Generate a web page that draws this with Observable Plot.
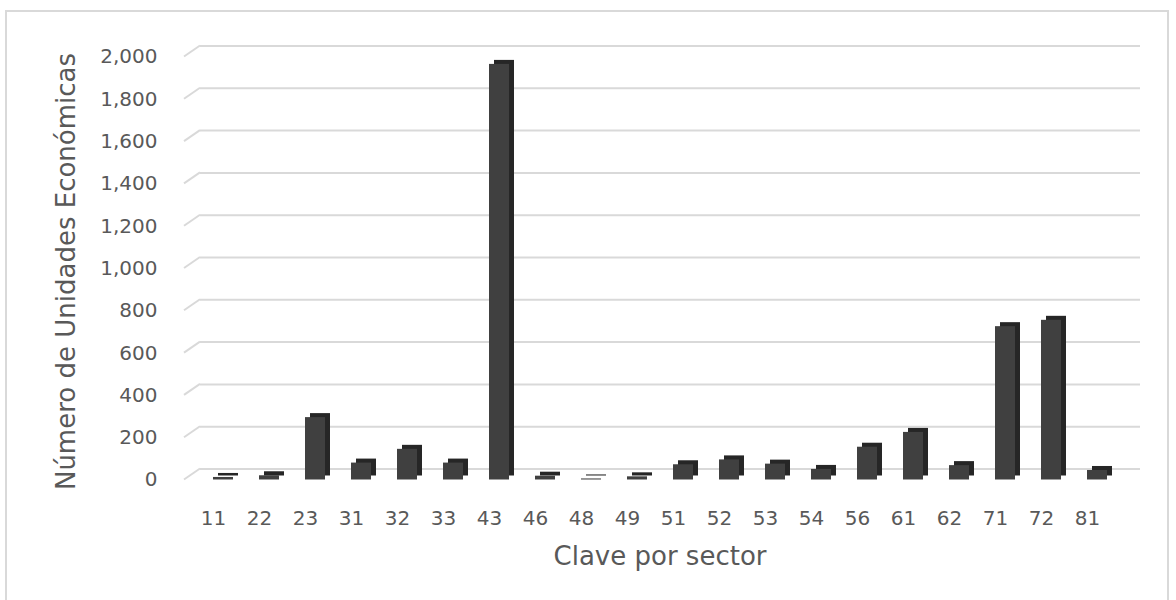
<!DOCTYPE html>
<html>
<head>
<meta charset="utf-8">
<script src="https://cdn.jsdelivr.net/npm/d3@7"></script>
<script src="https://cdn.jsdelivr.net/npm/@observablehq/plot@0.6"></script>
<style>
  html, body { margin: 0; padding: 0; background: #fff; }
  #wrap { position: relative; width: 1176px; height: 600px; overflow: hidden; }
  #border { position: absolute; left: 5px; top: 10px; width: 1164px; height: 600px; border: 2px solid #d9d9d9; box-sizing: border-box; }
  #chart { position: absolute; left: 0; top: 0; }
</style>
</head>
<body>
<div id="wrap"><div id="border"></div><div id="chart"></div></div>
<script>
const sectors = ["11","22","23","31","32","33","43","46","48","49","51","52","53","54","56","61","62","71","72","81"];
const units   = [12, 20, 295, 80, 145, 80, 1965, 18, 5, 15, 72, 95, 75, 50, 155, 225, 68, 725, 755, 45];
const yTicks  = [0, 200, 400, 600, 800, 1000, 1200, 1400, 1600, 1800, 2000];

const data = sectors.map((s, i) => ({sector: s, value: units[i]}));
const fontFamily = "'DejaVu Sans', sans-serif";
const textColor = "#595959";
const gridColor = "#d9d9d9";

// slanted left ends of the back-wall gridlines (3D floor edge)
const slants = (index, scales, values, dimensions) => {
  const y = scales.y ?? (scales.scales && scales.scales.y);
  const g = d3.create("svg:g").attr("stroke", gridColor).attr("stroke-width", 2).attr("fill", "none");
  const x0 = dimensions.marginLeft + 7;
  for (const t of yTicks) {
    const yy = y(t);
    g.append("line").attr("x1", x0).attr("y1", yy).attr("x2", x0 + 16).attr("y2", yy - 11);
  }
  return g.node();
};

const chart = Plot.plot({
  width: 1176,
  height: 600,
  marginLeft: 177,
  marginRight: 34,
  marginTop: 56.5,
  marginBottom: 120.5,
  style: {fontFamily, fontSize: "20px", color: textColor, background: "transparent", overflow: "visible"},
  x: {type: "band", domain: sectors, padding: 0.574, label: null},
  y: {domain: [0, 2000], label: null},
  marks: [
    Plot.ruleY(yTicks, {stroke: gridColor, strokeWidth: 2, dy: -11, insetLeft: 23, insetRight: 2}),
    slants,
    Plot.barY(data, {x: "sector", y: "value", fill: "#262626", dx: 5, dy: -4}),
    Plot.barY(data, {x: "sector", y: "value", fill: "#404040"}),
    Plot.axisY({ticks: yTicks, tickFormat: d3.format(","), tickSize: 0, tickPadding: 20, fontSize: 20, fill: textColor, dy: 0, label: null}),
    Plot.axisX({tickSize: 0, tickPadding: 31, fontSize: 20, fill: textColor, dx: -10, label: null}),
    Plot.text(["Número de Unidades Económicas"], {frameAnchor: "left", textAnchor: "middle", dx: -111, dy: 3, rotate: -90, fontSize: 26, fill: textColor}),
    Plot.text(["Clave por sector"], {frameAnchor: "bottom", textAnchor: "middle", dy: 85, fontSize: 26, fill: textColor})
  ]
});
document.getElementById("chart").appendChild(chart);
</script>
</body>
</html>
